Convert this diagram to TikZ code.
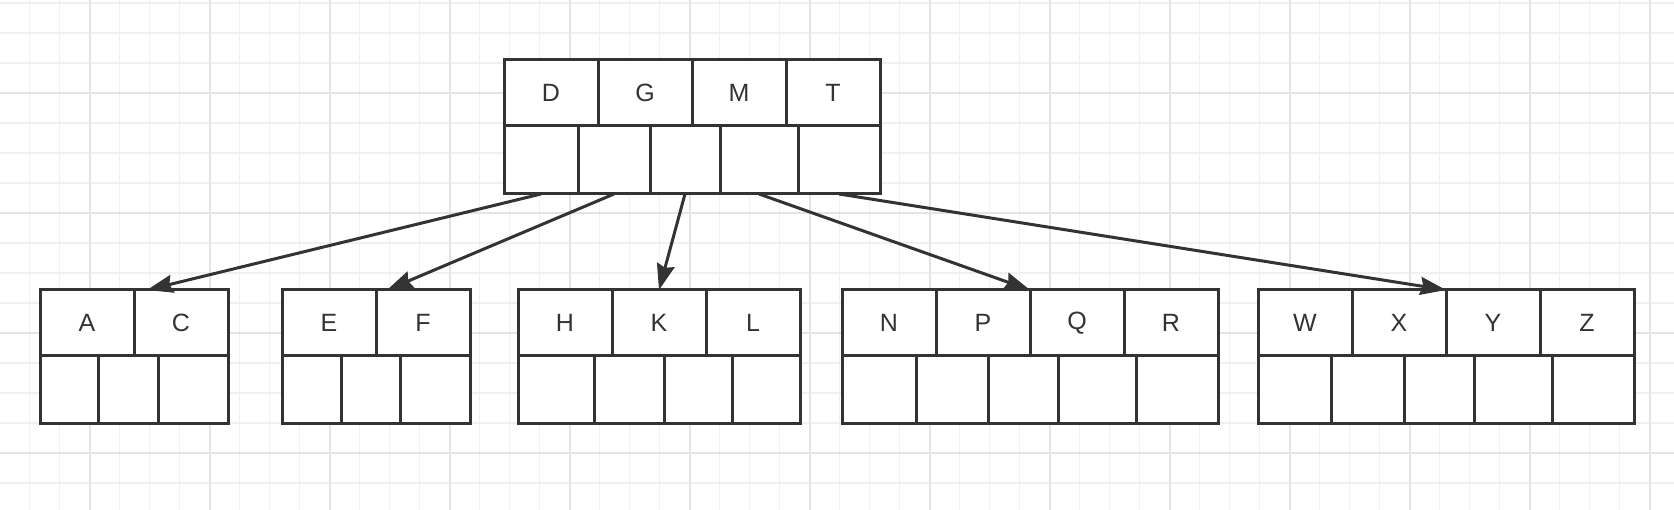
\documentclass[tikz,border=0pt]{standalone}
\usepackage{fontspec}
\setmainfont{Liberation Sans}
\usetikzlibrary{arrows.meta}
\definecolor{ink}{HTML}{333333}
\definecolor{gridminor}{HTML}{F0F0F0}
\definecolor{gridmajor}{HTML}{E4E4E4}

\begin{document}
\begin{tikzpicture}[x=1pt,y=-1pt,
  keycell/.style={rectangle,draw=ink,line width=3pt,fill=white,inner sep=0pt,outer sep=0pt,anchor=north west,minimum width=94pt,minimum height=66pt,text=ink,font=\fontsize{25}{30}\selectfont},
  ptrcell/.style={rectangle,draw=ink,line width=3pt,fill=white,inner sep=0pt,outer sep=0pt,anchor=north west,minimum height=68pt},
  ptr/.style={draw=ink,line width=3pt,-{Stealth[length=26pt,width=18pt,inset=3pt]}}]
\useasboundingbox (0,0) rectangle (1674,510);
\fill[white] (0,0) rectangle (1674,510);

% background grid
\foreach \i in {0,...,54} \draw[gridminor,line width=1.5pt] ({29.5+30*\i},0) -- ({29.5+30*\i},510);
\foreach \j in {0,...,16} \draw[gridminor,line width=1.5pt] (0,{3+30*\j}) -- (1674,{3+30*\j});
\foreach \i in {0,...,13} \draw[gridmajor,line width=2pt] ({89.5+120*\i},0) -- ({89.5+120*\i},510);
\foreach \j in {0,...,3} \draw[gridmajor,line width=2pt] (0,{93+120*\j}) -- (1674,{93+120*\j});

% root
\node[keycell] (d) at (504,60) {D};
\node[keycell] (g) at (598,60) {G};
\node[keycell] (m) at (692,60) {M};
\node[keycell] (t) at (786,60) {T};
\node[ptrcell,minimum width=74pt] (r0) at (504,126) {};
\node[ptrcell,minimum width=72pt] (r1) at (578,126) {};
\node[ptrcell,minimum width=70pt] (r2) at (650,126) {};
\node[ptrcell,minimum width=78pt] (r3) at (720,126) {};
\node[ptrcell,minimum width=82pt] (r4) at (798,126) {};

% A C
\node[keycell] (a) at (40,290) {A};
\node[keycell] (c) at (134,290) {C};
\node[ptrcell,minimum width=58pt] (ac0) at (40,356) {};
\node[ptrcell,minimum width=60pt] (ac1) at (98,356) {};
\node[ptrcell,minimum width=70pt] (ac2) at (158,356) {};

% E F
\node[keycell] (e) at (282,290) {E};
\node[keycell] (f) at (376,290) {F};
\node[ptrcell,minimum width=59pt] (ef0) at (282,356) {};
\node[ptrcell,minimum width=59pt] (ef1) at (341,356) {};
\node[ptrcell,minimum width=70pt] (ef2) at (400,356) {};

% H K L
\node[keycell] (h) at (518,290) {H};
\node[keycell] (k) at (612,290) {K};
\node[keycell] (l) at (706,290) {L};
\node[ptrcell,minimum width=76pt] (hkl0) at (518,356) {};
\node[ptrcell,minimum width=70pt] (hkl1) at (594,356) {};
\node[ptrcell,minimum width=68pt] (hkl2) at (664,356) {};
\node[ptrcell,minimum width=68pt] (hkl3) at (732,356) {};

% N P Q R
\node[keycell] (n) at (842,290) {N};
\node[keycell] (p) at (936,290) {P};
\node[keycell] (q) at (1030,290) {Q};
\node[keycell] (r) at (1124,290) {R};
\node[ptrcell,minimum width=74pt] (npqr0) at (842,356) {};
\node[ptrcell,minimum width=72pt] (npqr1) at (916,356) {};
\node[ptrcell,minimum width=70pt] (npqr2) at (988,356) {};
\node[ptrcell,minimum width=78pt] (npqr3) at (1058,356) {};
\node[ptrcell,minimum width=82pt] (npqr4) at (1136,356) {};

% W X Y Z
\node[keycell] (w) at (1258,290) {W};
\node[keycell] (x) at (1352,290) {X};
\node[keycell] (y) at (1446,290) {Y};
\node[keycell] (z) at (1540,290) {Z};
\node[ptrcell,minimum width=73pt] (wxyz0) at (1258,356) {};
\node[ptrcell,minimum width=73pt] (wxyz1) at (1331,356) {};
\node[ptrcell,minimum width=70pt] (wxyz2) at (1404,356) {};
\node[ptrcell,minimum width=78pt] (wxyz3) at (1474,356) {};
\node[ptrcell,minimum width=82pt] (wxyz4) at (1552,356) {};

% pointers
\draw[ptr] (r0.south) -- ([xshift=13pt]a.north east);
\draw[ptr] (r1.south) -- ([xshift=11pt]e.north east);
\draw[ptr] (r2.south) -- (k.north);
\draw[ptr] (r3.south) -- (p.north east);
\draw[ptr] (r4.south) -- (x.north east);
\end{tikzpicture}
\end{document}
